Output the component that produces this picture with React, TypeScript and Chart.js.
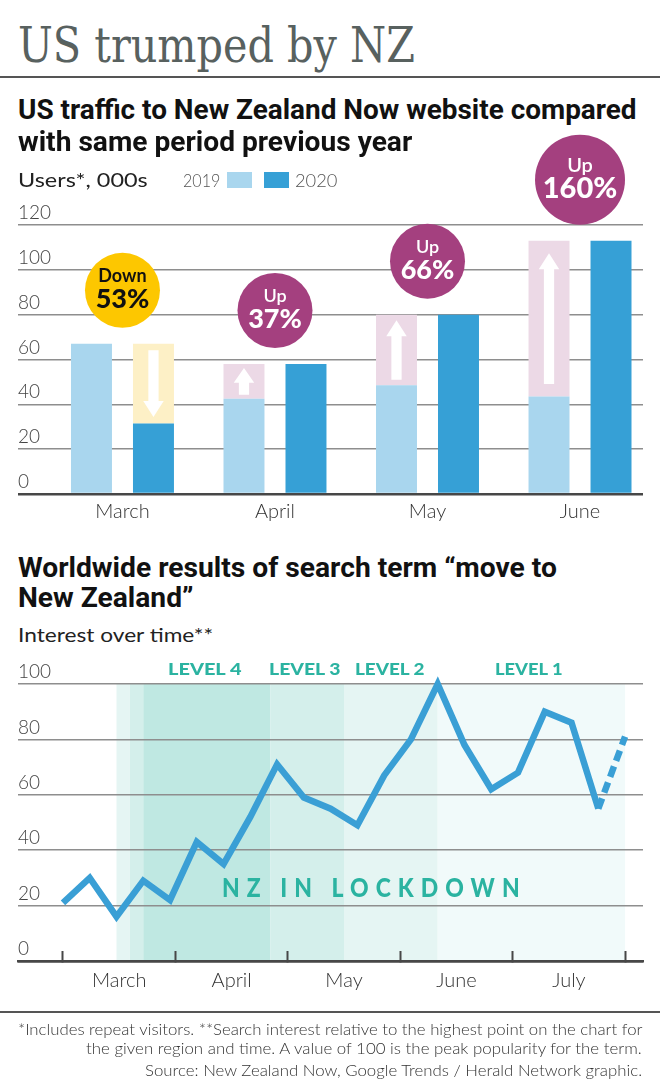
import React, { useEffect, useLayoutEffect, useRef, useState } from 'react';
import { Chart, registerables } from 'chart.js';

Chart.register(...registerables);

// ---------- data: bar chart ----------
const months = ['March', 'April', 'May', 'June'];
const users2019 = [67, 42.5, 48.5, 43.5];
const users2020 = [31.5, 58, 80, 113];
const changeWord = ['Down', 'Up', 'Up', 'Up'];
const changePct = ['53%', '37%', '66%', '160%'];
const barTicks = [0, 20, 40, 60, 80, 100, 120];

// ---------- data: line chart (weekly index) ----------
const interest = [21, 30, 16, 29, 22, 43, 35, 52, 71, 59, 55, 49, 67, 80, 100, 78, 62, 68, 90, 86, 55, 81];
const provisionalFrom = 20;
const trendMonths = ['March', 'April', 'May', 'June', 'July'];
const monthBounds = [0, 4.2, 8.4, 12.6, 16.8, 21];
const lineTicks = [0, 20, 40, 60, 80, 100];
const bandFrom = [2, 2.5, 3, 7.75, 10.5, 14];
const bandTo = [2.5, 3, 7.75, 10.5, 14, 21];
const bandLevel = [2, 3, 4, 3, 2, 1];

// ---------- styles ----------
const C19 = '#a9d6ee';
const C20 = '#36a0d6';
const PINK = '#ecd9e6';
const PALEYEL = '#fdf0c6';
const YEL = '#fdc700';
const PURPLE = '#a4407f';
const TEAL = '#2bb3a1';
const LINE = '#3a9fd5';
const GRID = '#8e8e8e';
const BASE = '#474747';
const LEVEL_COLORS: Record<number, string> = { 4: '#bfe8e2', 3: '#d4efeb', 2: '#e5f5f3', 1: '#f1fafa' };

const LIGHT = 'Lato';
const BOLD = 'Roboto';
const SERIF = '"DejaVu Serif"';
const METRIC: Record<string, number> = { [LIGHT]: 0.887, [BOLD]: 0.842, [SERIF]: 0.846 };

const monthMids = trendMonths.map((_, i) => (monthBounds[i] + monthBounds[i + 1]) / 2);

function drawArrow(ctx: CanvasRenderingContext2D, cx: number, top: number, bottom: number, barW: number, up: boolean) {
  const h = bottom - top;
  const m = Math.max(4, h * 0.08);
  const y0 = top + m;
  const y1 = bottom - m;
  const headH = Math.min(16, (y1 - y0) * 0.55);
  const headW = barW * 0.5;
  const shaftW = barW * 0.25;
  ctx.beginPath();
  if (up) {
    ctx.moveTo(cx, y0);
    ctx.lineTo(cx + headW / 2, y0 + headH);
    ctx.lineTo(cx + shaftW / 2, y0 + headH);
    ctx.lineTo(cx + shaftW / 2, y1);
    ctx.lineTo(cx - shaftW / 2, y1);
    ctx.lineTo(cx - shaftW / 2, y0 + headH);
    ctx.lineTo(cx - headW / 2, y0 + headH);
  } else {
    ctx.moveTo(cx, y1);
    ctx.lineTo(cx + headW / 2, y1 - headH);
    ctx.lineTo(cx + shaftW / 2, y1 - headH);
    ctx.lineTo(cx + shaftW / 2, y0);
    ctx.lineTo(cx - shaftW / 2, y0);
    ctx.lineTo(cx - shaftW / 2, y1 - headH);
    ctx.lineTo(cx - headW / 2, y1 - headH);
  }
  ctx.closePath();
  ctx.fillStyle = '#ffffff';
  ctx.fill();
}

const barDecor = {
  id: 'barDecor',
  afterDatasetsDraw(chart: any) {
    const ctx: CanvasRenderingContext2D = chart.ctx;
    ctx.save();
    [1, 3].forEach((di) => {
      const meta = chart.getDatasetMeta(di);
      meta.data.forEach((el: any) => {
        const p = el.getProps(['x', 'y', 'base', 'width'], true);
        const top = Math.min(p.y, p.base);
        const bottom = Math.max(p.y, p.base);
        drawArrow(ctx, p.x, top, bottom, p.width, di === 1);
      });
    });
    ctx.restore();
  },
  afterDraw(chart: any) {
    const ctx: CanvasRenderingContext2D = chart.ctx;
    const xs = chart.scales.x;
    const ys = chart.scales.y;
    ctx.save();
    months.forEach((_, i) => {
      const big = parseFloat(changePct[i]) >= 100;
      const r = big ? 45 : 37.5;
      const cx = xs.getPixelForValue(i);
      const cy = ys.getPixelForValue(Math.max(users2019[i], users2020[i])) - 16 - r;
      const down = changeWord[i] === 'Down';
      ctx.beginPath();
      ctx.arc(cx, cy, r, 0, Math.PI * 2);
      ctx.fillStyle = down ? YEL : PURPLE;
      ctx.fill();
      ctx.fillStyle = down ? '#111111' : '#ffffff';
      ctx.textAlign = 'center';
      ctx.textBaseline = 'alphabetic';
      ctx.font = `${down ? 700 : 600} ${big ? 20 : 18}px ${LIGHT}`;
      ctx.fillText(changeWord[i], cx, cy - 8);
      ctx.font = `900 ${big ? 29 : 27}px ${LIGHT}`;
      ctx.fillText(changePct[i], cx, cy + 18);
    });
    ctx.restore();
  },
};

const bandsPlugin = {
  id: 'bands',
  beforeDraw(chart: any) {
    const ctx: CanvasRenderingContext2D = chart.ctx;
    const xs = chart.scales.x;
    const ys = chart.scales.y;
    const top = ys.getPixelForValue(100);
    const bottom = ys.getPixelForValue(0);
    ctx.save();
    bandFrom.forEach((f, i) => {
      const x0 = xs.getPixelForValue(f);
      const x1 = xs.getPixelForValue(bandTo[i]);
      ctx.fillStyle = LEVEL_COLORS[bandLevel[i]];
      ctx.fillRect(x0, top, x1 - x0, bottom - top);
    });
    ctx.restore();
  },
};

function barConfig(): any {
  const idx = months.map((_, i) => i);
  return {
    type: 'bar',
    data: {
      datasets: [
        { label: '2019', data: idx.map((i) => ({ x: i, y: users2019[i] })), backgroundColor: C19, stack: 'a' },
        {
          label: 'rise',
          data: idx.filter((i) => users2020[i] > users2019[i]).map((i) => ({ x: i, y: [users2019[i], users2020[i]] })),
          backgroundColor: PINK,
          stack: 'a',
        },
        { label: '2020', data: idx.map((i) => ({ x: i, y: users2020[i] })), backgroundColor: C20, stack: 'b' },
        {
          label: 'fall',
          data: idx.filter((i) => users2020[i] < users2019[i]).map((i) => ({ x: i, y: [users2020[i], users2019[i]] })),
          backgroundColor: PALEYEL,
          stack: 'b',
        },
      ],
    },
    options: {
      animation: false,
      responsive: false,
      maintainAspectRatio: false,
      layout: { padding: { left: 18, right: 17, top: 95, bottom: 7 } },
      datasets: { bar: { categoryPercentage: 0.813, barPercentage: 0.661 } },
      plugins: { legend: { display: false }, tooltip: { enabled: false } },
      scales: {
        x: {
          type: 'linear',
          min: -0.685,
          max: 3.413,
          offset: false,
          afterBuildTicks: (s: any) => {
            s.ticks = idx.map((v) => ({ value: v }));
          },
          grid: { display: false, drawTicks: false, offset: false },
          border: { display: false },
          ticks: {
            autoSkip: false,
            maxRotation: 0,
            minRotation: 0,
            padding: 6,
            color: '#333333',
            font: { family: LIGHT, size: 20, weight: '300' },
            callback: (v: number) => months[Math.round(v)] ?? '',
          },
        },
        y: {
          min: 0,
          max: 120,
          stacked: false,
          afterBuildTicks: (s: any) => {
            s.ticks = barTicks.map((v) => ({ value: v }));
          },
          grid: {
            drawTicks: false,
            color: (c: any) => (c.tick && c.tick.value === 0 ? BASE : GRID),
            lineWidth: (c: any) => (c.tick && c.tick.value === 0 ? 2.5 : 1.5),
          },
          border: { display: false },
          ticks: {
            mirror: true,
            padding: 0,
            labelOffset: -12,
            color: '#444444',
            font: { family: LIGHT, size: 19, weight: '300' },
          },
        },
      },
    },
    plugins: [barDecor],
  };
}

function lineConfig(): any {
  const tickVals = [...monthBounds, ...monthMids].sort((a, b) => a - b);
  const isBound = (v: number) => monthBounds.some((b) => Math.abs(b - v) < 1e-6);
  return {
    type: 'line',
    data: {
      datasets: [
        {
          data: interest.map((v, i) => ({ x: i, y: v })),
          borderColor: LINE,
          borderWidth: 6.5,
          pointRadius: 0,
          tension: 0,
          fill: false,
          clip: false,
          borderJoinStyle: 'miter',
          borderCapStyle: 'butt',
          segment: {
            borderDash: (c: any) => (c.p0DataIndex >= provisionalFrom ? [11, 6] : undefined),
          },
        },
      ],
    },
    options: {
      animation: false,
      responsive: false,
      maintainAspectRatio: false,
      layout: { padding: { left: 18, right: 17, top: 34, bottom: 8 } },
      plugins: { legend: { display: false }, tooltip: { enabled: false } },
      scales: {
        x: {
          type: 'linear',
          min: -1.68,
          max: 21.67,
          afterBuildTicks: (s: any) => {
            s.ticks = tickVals.map((v) => ({ value: v }));
          },
          grid: {
            drawOnChartArea: false,
            drawTicks: true,
            tickLength: -10,
            tickWidth: 2,
            tickColor: (c: any) => (c.tick && isBound(c.tick.value) ? BASE : 'rgba(0,0,0,0)'),
          },
          border: { display: true, color: BASE, width: 2.5 },
          ticks: {
            autoSkip: false,
            maxRotation: 0,
            minRotation: 0,
            padding: 18,
            color: '#333333',
            font: { family: LIGHT, size: 20, weight: '300' },
            callback: (v: number) => {
              const k = monthMids.findIndex((m) => Math.abs(m - v) < 1e-6);
              return k >= 0 ? trendMonths[k] : '';
            },
          },
        },
        y: {
          min: 0,
          max: 100,
          afterBuildTicks: (s: any) => {
            s.ticks = lineTicks.map((v) => ({ value: v }));
          },
          grid: {
            drawTicks: false,
            color: (c: any) => (c.tick && c.tick.value === 0 ? BASE : GRID),
            lineWidth: (c: any) => (c.tick && c.tick.value === 0 ? 2.5 : 1.5),
          },
          border: { display: false },
          ticks: {
            mirror: true,
            padding: 0,
            labelOffset: -12,
            color: '#444444',
            font: { family: LIGHT, size: 19, weight: '300' },
          },
        },
      },
    },
    plugins: [bandsPlugin],
  };
}

type TxtProps = {
  x: number;
  base: number;
  size: number;
  font: string;
  weight?: number;
  color: string;
  w?: number;
  ls?: number;
  children: React.ReactNode;
};

function Txt({ x, base, size, font, weight = 400, color, w, ls = 0, children }: TxtProps) {
  const ref = useRef<HTMLDivElement>(null);
  const [k, setK] = useState(1);
  useLayoutEffect(() => {
    if (!w || !ref.current) return;
    const nat = ref.current.offsetWidth - ls;
    if (nat > 0) setK(w / nat);
  }, [w, ls]);
  return (
    <div
      ref={ref}
      style={{
        position: 'absolute',
        left: x,
        top: base - size * (METRIC[font] ?? 0.85),
        fontFamily: font,
        fontSize: size,
        lineHeight: `${size}px`,
        fontWeight: weight,
        color,
        whiteSpace: 'nowrap',
        letterSpacing: ls,
        transform: `scaleX(${k})`,
        transformOrigin: 'left top',
      }}
    >
      {children}
    </div>
  );
}

export default function App() {
  const barRef = useRef<HTMLCanvasElement>(null);
  const lineRef = useRef<HTMLCanvasElement>(null);

  useEffect(() => {
    const c1 = new Chart(barRef.current as HTMLCanvasElement, barConfig());
    const c2 = new Chart(lineRef.current as HTMLCanvasElement, lineConfig());
    return () => {
      c1.destroy();
      c2.destroy();
    };
  }, []);

  return (
    <div style={{ position: 'absolute', left: 0, top: 0, width: 660, height: 1088, background: '#ffffff', overflow: 'hidden' }}>
      <canvas ref={barRef} width={660} height={407} style={{ position: 'absolute', left: 0, top: 130, display: 'block' }} />
      <canvas ref={lineRef} width={660} height={369} style={{ position: 'absolute', left: 0, top: 650, display: 'block' }} />

      <Txt x={18} base={62} size={48} font={SERIF} color="#58615f" w={397}>US trumped by NZ</Txt>
      <div style={{ position: 'absolute', left: 0, top: 76, width: 660, height: 2, background: '#555' }} />

      <Txt x={18} base={120} size={28} font={BOLD} weight={700} color="#111" w={619}>
        US traffic to New Zealand Now website compared
      </Txt>
      <Txt x={18} base={152} size={28} font={BOLD} weight={700} color="#111" w={394}>
        with same period previous year
      </Txt>
      <Txt x={18} base={187} size={20} font={LIGHT} weight={400} color="#222" w={130}>Users*, 000s</Txt>
      <Txt x={183} base={187} size={17} font={LIGHT} weight={300} color="#555" w={37}>2019</Txt>
      <div style={{ position: 'absolute', left: 227, top: 172, width: 25, height: 16, background: C19 }} />
      <div style={{ position: 'absolute', left: 264, top: 172, width: 25, height: 16, background: C20 }} />
      <Txt x={295} base={187} size={17} font={LIGHT} weight={300} color="#555" w={42}>2020</Txt>

      <Txt x={18} base={578} size={28} font={BOLD} weight={700} color="#111" w={539}>
        Worldwide results of search term “move to
      </Txt>
      <Txt x={18} base={608} size={28} font={BOLD} weight={700} color="#111" w={175}>New Zealand”</Txt>
      <Txt x={18} base={642} size={20} font={LIGHT} weight={400} color="#222" w={195}>Interest over time**</Txt>

      <Txt x={168} base={675} size={17} font={LIGHT} weight={900} color={TEAL} w={74}>LEVEL 4</Txt>
      <Txt x={269} base={675} size={17} font={LIGHT} weight={900} color={TEAL} w={72}>LEVEL 3</Txt>
      <Txt x={355} base={675} size={17} font={LIGHT} weight={900} color={TEAL} w={70}>LEVEL 2</Txt>
      <Txt x={495} base={675} size={17} font={LIGHT} weight={900} color={TEAL} w={68}>LEVEL 1</Txt>
      <Txt x={222} base={897} size={26} font={LIGHT} weight={900} color={TEAL} w={298} ls={8}>NZ IN LOCKDOWN</Txt>

      <div style={{ position: 'absolute', left: 0, top: 1011, width: 660, height: 2, background: '#555' }} />
      <Txt x={18} base={1035} size={16} font={LIGHT} weight={300} color="#333" w={624}>
        *Includes repeat visitors. **Search interest relative to the highest point on the chart for
      </Txt>
      <Txt x={86} base={1054} size={16} font={LIGHT} weight={300} color="#333" w={556}>
        the given region and time. A value of 100 is the peak popularity for the term.
      </Txt>
      <Txt x={145} base={1076} size={16} font={LIGHT} weight={300} color="#333" w={497}>
        Source: New Zealand Now, Google Trends / Herald Network graphic.
      </Txt>
    </div>
  );
}
